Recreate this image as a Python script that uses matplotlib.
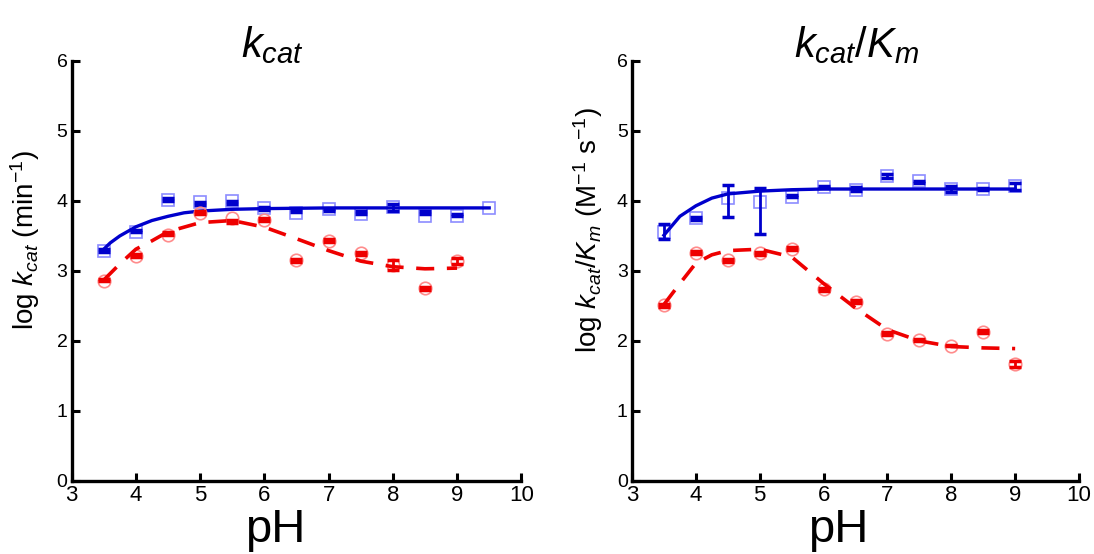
import numpy as np
import matplotlib
matplotlib.use('Agg')
import matplotlib.pyplot as plt

plt.rcParams['font.family'] = ['Liberation Sans', 'DejaVu Sans']
plt.rcParams['mathtext.fontset'] = 'custom'
plt.rcParams['mathtext.rm'] = 'Liberation Sans'
plt.rcParams['mathtext.it'] = 'Liberation Sans:italic'

# ---- kcat panel ----
ph_kcat = [3.5, 4.0, 4.5, 5.0, 5.5, 6.0, 6.5, 7.0, 7.5, 8.0, 8.5, 9.0, 9.5]
kcat_blue_open = [3.29, 3.56, 4.02, 3.98, 4.00, 3.90, 3.83, 3.89, 3.82, 3.91, 3.79, 3.79, 3.90]
kcat_blue_mean = [3.29, 3.57, 4.02, 3.96, 3.98, 3.89, 3.86, 3.87, 3.84, 3.91, 3.83, 3.80, np.nan]
kcat_blue_err = [0.02, 0.02, 0.02, 0.02, 0.02, 0.02, 0.02, 0.02, 0.02, 0.05, 0.02, 0.02, 0.0]

ph_kcat_red = [3.5, 4.0, 4.5, 5.0, 5.5, 6.0, 6.5, 7.0, 7.5, 8.0, 8.5, 9.0]
kcat_red_open = [2.86, 3.22, 3.51, 3.83, 3.75, 3.73, 3.15, 3.43, 3.25, 3.09, 2.75, 3.14]
kcat_red_mean = [2.87, 3.22, 3.53, 3.84, 3.71, 3.73, 3.15, 3.43, 3.25, 3.08, 2.75, 3.14]
kcat_red_err = [0.02, 0.02, 0.02, 0.02, 0.02, 0.02, 0.02, 0.02, 0.02, 0.07, 0.02, 0.04]

fit_ph_kcat_blue = [3.5, 3.6, 3.75, 4.0, 4.25, 4.5, 4.75, 5.0, 5.5, 6.0, 7.0, 9.5]
fit_kcat_blue = [3.31, 3.40, 3.50, 3.63, 3.72, 3.78, 3.83, 3.855, 3.88, 3.89, 3.90, 3.90]
fit_ph_kcat_red = [3.5, 3.75, 4.0, 4.25, 4.5, 5.0, 5.5, 6.0, 6.5, 7.0, 7.5, 8.0, 8.5, 9.0]
fit_kcat_red = [2.87, 3.10, 3.31, 3.43, 3.56, 3.69, 3.72, 3.625, 3.46, 3.29, 3.14, 3.06, 3.03, 3.04]

# ---- kcat/Km panel ----
ph_km = [3.5, 4.0, 4.5, 5.0, 5.5, 6.0, 6.5, 7.0, 7.5, 8.0, 8.5, 9.0]
km_blue_open = [3.56, 3.76, 4.04, 3.98, 4.06, 4.20, 4.16, 4.36, 4.28, 4.17, 4.17, 4.21]
km_blue_mean = [3.56, 3.75, 4.00, 3.86, 4.07, 4.20, 4.17, 4.36, 4.27, 4.17, 4.17, 4.21]
km_blue_err = [0.11, 0.02, 0.23, 0.33, 0.02, 0.02, 0.03, 0.03, 0.01, 0.04, 0.01, 0.05]

km_red_open = [2.51, 3.26, 3.15, 3.25, 3.32, 2.74, 2.56, 2.10, 2.01, 1.93, 2.13, 1.67]
km_red_mean = [2.51, 3.26, 3.15, 3.25, 3.32, 2.74, 2.56, 2.10, 2.01, 1.93, 2.13, 1.67]
km_red_err = [0.02, 0.02, 0.02, 0.02, 0.02, 0.02, 0.02, 0.02, 0.01, 0.01, 0.02, 0.04]

fit_ph_km = [3.5, 3.75, 4.0, 4.25, 4.5, 5.0, 5.5, 6.0, 6.5, 7.0, 7.5, 8.0, 8.5, 9.0]
fit_km_blue = [3.51, 3.78, 3.93, 4.04, 4.10, 4.14, 4.16, 4.17, 4.17, 4.17, 4.17, 4.17, 4.17, 4.17]
fit_km_red = [2.52, 2.82, 3.11, 3.23, 3.29, 3.31, 3.20, 2.82, 2.47, 2.16, 2.00, 1.92, 1.90, 1.89]

BLUE = '#0000cc'
LBLUE = '#8c8cff'
RED = '#ee0000'
LRED = '#ff8c8c'

fig = plt.figure(figsize=(10.94, 5.54), dpi=100)
ax1 = fig.add_axes([0.0655, 0.132, 0.411, 0.758])
ax2 = fig.add_axes([0.5777, 0.132, 0.4086, 0.758])


def style(ax):
    ax.set_xlim(3, 10)
    ax.set_ylim(0, 6)
    ax.spines['top'].set_visible(False)
    ax.spines['right'].set_visible(False)
    ax.spines['left'].set_linewidth(2.4)
    ax.spines['bottom'].set_linewidth(2.4)
    ax.set_xticks(range(3, 11))
    ax.set_yticks(range(0, 7))
    ax.tick_params(axis='both', direction='in', length=6, width=2.2)
    ax.tick_params(axis='x', labelsize=16, pad=3)
    ax.tick_params(axis='y', labelsize=14, pad=3)


def draw(ax, x, opn, mean, err, fx, fy, dark, light, marker, ls):
    ax.plot(x, opn, linestyle='none', marker=marker, markersize=9,
            markerfacecolor='none', markeredgecolor=light, markeredgewidth=1.2)
    ax.errorbar(x, mean, yerr=err, fmt='none', ecolor=dark, elinewidth=2,
                capsize=4, capthick=2.5)
    if ls == '--':
        ax.plot(fx, fy, color=dark, lw=2.6, dashes=(5, 3.5))
    else:
        ax.plot(fx, fy, color=dark, lw=2.4)


style(ax1)
style(ax2)

draw(ax1, ph_kcat, kcat_blue_open, kcat_blue_mean, kcat_blue_err,
     fit_ph_kcat_blue, fit_kcat_blue, BLUE, LBLUE, 's', '-')
draw(ax1, ph_kcat_red, kcat_red_open, kcat_red_mean, kcat_red_err,
     fit_ph_kcat_red, fit_kcat_red, RED, LRED, 'o', '--')
draw(ax2, ph_km, km_blue_open, km_blue_mean, km_blue_err,
     fit_ph_km, fit_km_blue, BLUE, LBLUE, 's', '-')
draw(ax2, ph_km, km_red_open, km_red_mean, km_red_err,
     fit_ph_km, fit_km_red, RED, LRED, 'o', '--')

ax1.set_ylabel(r'log $k_{cat}$ (min$^{-1}$)', fontsize=20)
ax2.set_ylabel(r'log $k_{cat}$/$K_m$ (M$^{-1}$ s$^{-1}$)', fontsize=20)
ax1.yaxis.set_label_coords(-0.066, 0.574)
ax2.yaxis.set_label_coords(-0.060, 0.598)

fig.text(272 / 1094, 1 - 45 / 554, r'$k_{cat}$', fontsize=30, ha='center', va='center')
fig.text(857 / 1094, 1 - 45 / 554, r'$k_{cat}$/$K_m$', fontsize=30, ha='center', va='center')
fig.text(275 / 1094, 1 - 530 / 554, 'pH', fontsize=34, ha='center', va='center')
fig.text(838 / 1094, 1 - 530 / 554, 'pH', fontsize=34, ha='center', va='center')

fig.savefig('out.png', dpi=100)
